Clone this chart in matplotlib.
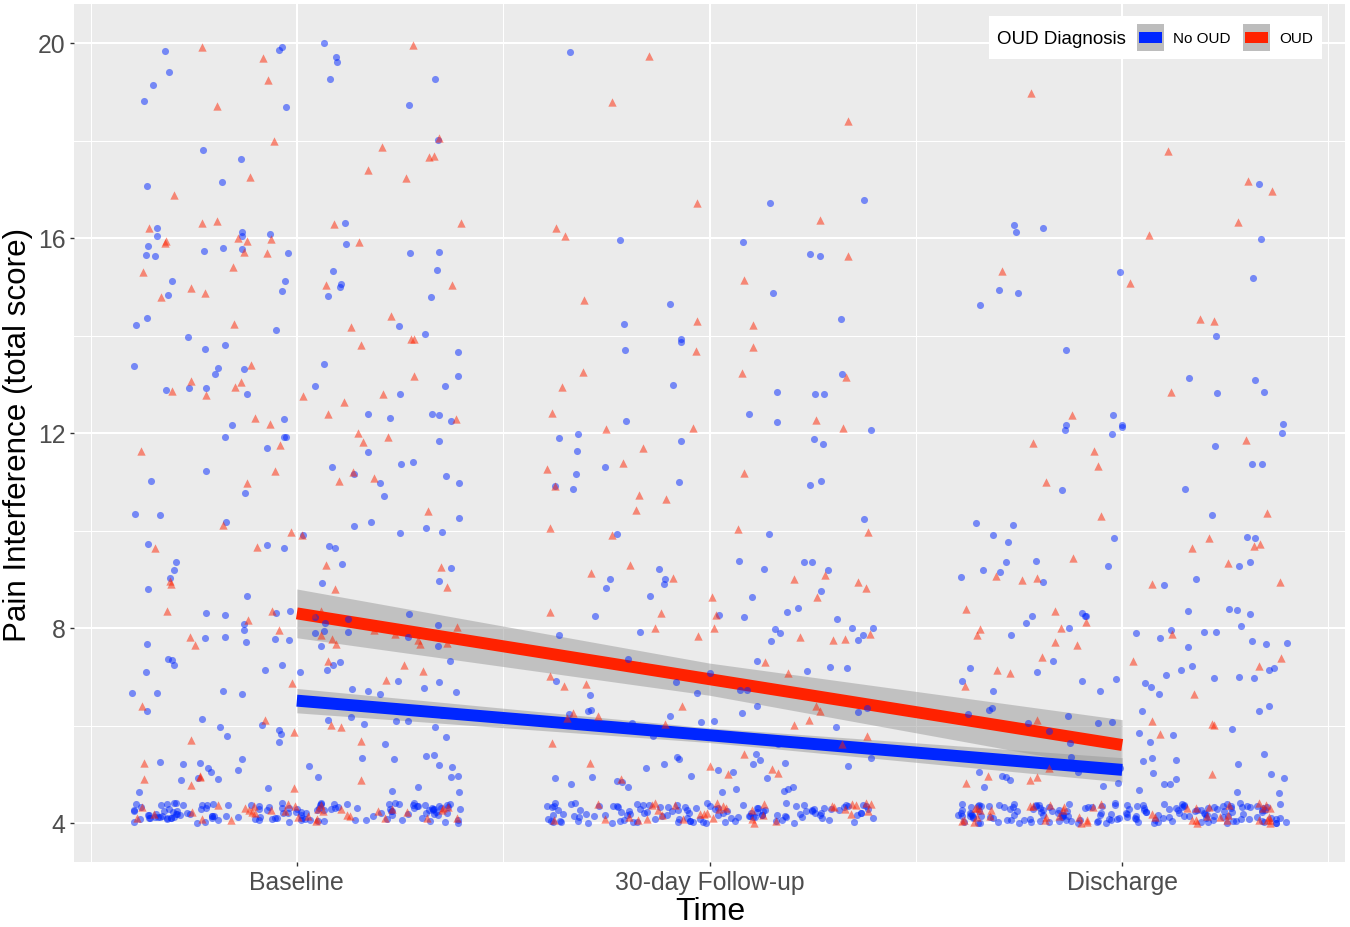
import matplotlib
matplotlib.use("Agg")
import matplotlib.pyplot as plt
from matplotlib.patches import Rectangle
import numpy as np

plt.rcParams['font.family'] = ['Liberation Sans', 'DejaVu Sans']

# ---- data ----
times = ["Baseline", "30-day Follow-up", "Discharge"]
groups = ["No OUD", "OUD"]

no_oud_baseline = [
    19.99, 19.84, 19.85, 19.72, 19.62, 19.92, 19.4, 19.26, 19.26, 19.14, 18.82, 18.73, 18.68,
    18.02, 17.81, 17.63, 17.15, 17.07, 16.31, 16.21, 16.12, 16.08, 16.05, 16.04, 15.87, 15.83,
    15.79, 15.77, 15.74, 15.72, 15.7, 15.69, 15.66, 15.64, 15.35, 15.33, 15.12, 15.11, 15.06,
    15.0, 14.92, 14.84, 14.81, 14.79, 14.36, 14.21, 14.19, 14.11, 14.03, 13.97, 13.8, 13.73,
    13.67, 13.41, 13.37, 13.34, 13.32, 13.22, 13.16, 12.96, 12.96, 12.93, 12.92, 12.88, 12.8,
    12.79, 12.38, 12.38, 12.37, 12.3, 12.28, 12.24, 12.16,
    11.91, 11.91, 11.91, 11.84, 11.69, 11.62, 11.41, 11.36, 11.31, 11.23, 11.15, 11.11, 11.01,
    10.98, 10.98, 10.76, 10.7, 10.33, 10.32, 10.26, 10.18, 10.18, 10.09, 10.05, 9.96, 9.94,
    9.9, 9.72, 9.7, 9.68, 9.65, 9.64, 9.35, 9.32, 9.23, 9.19, 9.02, 8.96, 8.92, 8.81, 8.66,
    8.35, 8.3, 8.3, 8.28, 8.27, 8.22, 8.19, 8.11, 8.08, 8.06, 7.96, 7.93, 7.91, 7.89, 7.81,
    7.81, 7.79, 7.77, 7.76, 7.72, 7.68, 7.63, 7.63, 7.37, 7.34, 7.33, 7.31, 7.25, 7.25, 7.24,
    7.14, 7.13, 7.1, 7.1, 6.92, 6.9, 6.77, 6.75, 6.71, 6.7, 6.68, 6.67, 6.66, 6.64, 6.64,
    6.33, 6.3, 6.29, 6.22, 6.17, 6.13, 6.12, 6.1, 6.1, 6.03, 6.01, 5.97, 5.96, 5.9, 5.83,
    5.78, 5.76, 5.67, 5.62, 5.4, 5.37, 5.34, 5.31, 5.31, 5.26, 5.24, 5.22, 5.18, 5.17, 5.15,
    5.13, 5.09, 5.05, 4.96, 4.94, 4.94, 4.92, 4.9, 4.89, 4.74, 4.72, 4.66, 4.63, 4.63]
no_oud_followup = [
    19.82, 16.78, 16.71, 15.95, 15.91, 15.67, 15.64, 14.88, 14.64, 14.34, 14.24, 13.92, 13.87,
    13.71, 13.21, 12.98, 12.85, 12.81, 12.8, 12.38, 12.25, 12.22,
    12.06, 11.97, 11.9, 11.88, 11.84, 11.77, 11.63, 11.31, 11.16, 11.02, 11.0, 10.93, 10.92,
    10.85, 10.23, 9.92, 9.92, 9.38, 9.35, 9.35, 9.22, 9.21, 9.2, 9.01, 9.0, 8.91, 8.83, 8.75,
    8.65, 8.63, 8.41, 8.32, 8.27, 8.24, 8.22, 8.19, 8.01, 8.01, 7.98, 7.91, 7.89, 7.86, 7.85,
    7.76, 7.74, 7.37, 7.33, 7.21, 7.17, 7.11, 7.07, 6.92, 6.89, 6.73, 6.72, 6.66, 6.62, 6.39,
    6.36, 6.31, 6.3, 6.28, 6.26, 6.23, 6.2, 6.1, 6.08, 6.05, 5.96, 5.79, 5.72, 5.62, 5.41,
    5.35, 5.33, 5.31, 5.3, 5.24, 5.21, 5.2, 5.16, 5.13, 5.09, 5.05, 4.96, 4.94, 4.92, 4.92,
    4.87, 4.85, 4.8, 4.74, 4.73, 4.7, 4.7, 4.65, 4.64]
no_oud_discharge = [
    17.11, 16.26, 16.21, 16.13, 15.98, 15.31, 15.18, 14.94, 14.87, 14.63, 13.99, 13.7, 13.13,
    13.08, 12.84, 12.83, 12.36, 12.19, 12.17, 12.16, 12.12,
    12.06, 12.01, 11.98, 11.74, 11.36, 11.36, 10.85, 10.84, 10.32, 10.16, 10.11, 9.91, 9.86,
    9.85, 9.84, 9.77, 9.38, 9.35, 9.35, 9.27, 9.27, 9.18, 9.14, 9.05, 9.01, 8.94, 8.89, 8.39,
    8.37, 8.34, 8.3, 8.28, 8.25, 8.25, 8.24, 8.1, 8.05, 8.01, 7.96, 7.91, 7.91, 7.89, 7.86,
    7.79, 7.74, 7.69, 7.67, 7.61, 7.33, 7.23, 7.17, 7.17, 7.14, 7.14, 7.09, 7.04, 7.0, 6.97,
    6.97, 6.95, 6.92, 6.91, 6.87, 6.78, 6.71, 6.7, 6.64, 6.41, 6.35, 6.32, 6.3, 6.29, 6.23,
    6.19, 6.08, 6.06, 6.05, 5.93, 5.89, 5.84, 5.8, 5.66, 5.64, 5.41, 5.35, 5.33, 5.3, 5.27,
    5.23, 5.21, 5.2, 5.16, 5.13, 5.05, 5.04, 5.02, 5.0, 4.96, 4.94, 4.92, 4.91, 4.88, 4.82,
    4.8, 4.79, 4.75, 4.74, 4.68, 4.64, 4.62]

oud_baseline = [
    19.96, 19.92, 19.7, 19.24, 18.71, 18.05, 17.99, 17.86, 17.68, 17.66, 17.4, 17.25, 17.23,
    16.89, 16.34, 16.31, 16.3, 16.28, 16.2, 16.0, 15.98, 15.94, 15.93, 15.91, 15.89, 15.71,
    15.69, 15.41, 15.31, 15.04, 15.03, 14.98, 14.87, 14.8, 14.41, 14.24, 14.17, 13.93, 13.92,
    13.8, 13.39, 13.17, 13.07, 13.05, 12.94, 12.87, 12.79, 12.77, 12.76, 12.63, 12.4, 12.31,
    12.28, 12.19,
    12.0, 11.91, 11.81, 11.75, 11.64, 11.22, 11.19, 11.07, 11.01, 10.98, 10.39, 10.11, 9.96,
    9.91, 9.67, 9.64, 9.29, 9.25, 8.96, 8.9, 8.84, 8.79, 8.34, 8.34, 8.34, 8.28, 8.17, 8.02,
    7.95, 7.95, 7.9, 7.88, 7.85, 7.82, 7.78, 7.76, 7.7, 7.68, 7.67, 7.66, 7.33, 7.24, 7.11,
    6.94, 6.88, 6.41, 6.12, 6.02, 5.96, 5.87, 5.71, 5.69, 5.24, 4.96, 4.94, 4.9, 4.88, 4.78,
    4.71]
oud_followup = [
    19.73, 18.8, 18.41, 16.72, 16.36, 16.2, 16.05, 15.64, 15.14, 14.72, 14.29, 14.22, 13.76,
    13.69, 13.25, 13.24, 13.15, 12.94, 12.42, 12.26, 12.1, 12.1,
    12.08, 11.69, 11.38, 11.26, 11.17, 10.91, 10.73, 10.65, 10.42, 10.05, 10.03, 9.96, 9.9,
    9.29, 9.12, 9.08, 9.02, 9.01, 8.95, 8.82, 8.64, 8.63, 8.32, 8.3, 8.27, 8.0, 8.0, 7.87,
    7.84, 7.82, 7.77, 7.75, 7.31, 7.25, 7.07, 7.01, 6.85, 6.81, 6.41, 6.4, 6.29, 6.25, 6.19,
    6.15, 6.12, 6.03, 6.02, 5.78, 5.64, 5.63, 5.41, 5.23, 5.16, 5.11, 5.03, 5.0, 4.91]
oud_discharge = [
    18.97, 17.78, 17.16, 16.96, 16.32, 16.06, 15.33, 15.07, 14.34, 14.29, 12.84, 12.36,
    11.86, 11.8, 11.64, 11.33, 11.0, 10.35, 10.3, 9.84, 9.72, 9.68, 9.65, 9.43, 9.34, 9.06,
    9.02, 8.98, 8.95, 8.91, 8.39, 8.35, 8.13, 8.0, 7.98, 7.87, 7.85, 7.72, 7.66, 7.4, 7.38,
    7.33, 7.22, 7.13, 7.07, 6.81, 6.64, 6.12, 6.1, 6.03, 6.02, 5.82, 5.13, 5.0, 4.96, 4.94,
    4.89, 4.83]

# how many people sit at the floor score of 4, per time point
floor_score = 4
floor_no_oud = [130, 120, 160]
floor_oud = [35, 35, 45]

# lm fit and 95% CI half-width at each time point
fit_no_oud = [6.51, 5.80, 5.09]
ci_no_oud = [0.25, 0.15, 0.25]
fit_oud = [8.30, 6.95, 5.60]
ci_oud = [0.50, 0.33, 0.52]

blue = '#0026FF'
red = '#FF2200'


def weyl(n, a, b, start):
    # quadratic Weyl sequence: a fixed, evenly spread jitter in [0, 1)
    k = np.arange(start, start + n, dtype=float)
    return (a * k + b * k * k) % 1.0


fig = plt.figure(figsize=(13.5, 9.28), dpi=100)
ax = fig.add_axes([74 / 1350, 1 - 863 / 928, 1271 / 1350, 858 / 928])
ax.set_facecolor('#EBEBEB')
for s in ax.spines.values():
    s.set_visible(False)

xpos = np.arange(1, len(times) + 1)

# smooth lines with ribbons (blue first, red over it)
for fit, ci, col in [(fit_no_oud, ci_no_oud, blue), (fit_oud, ci_oud, red)]:
    fit = np.array(fit)
    ci = np.array(ci)
    ax.fill_between(xpos, fit - ci, fit + ci, color='#999999', alpha=0.5, lw=0, zorder=2)
    ax.plot(xpos, fit, color=col, lw=8.6, solid_capstyle='butt', zorder=3)

# jittered points
no_oud = [no_oud_baseline, no_oud_followup, no_oud_discharge]
oud = [oud_baseline, oud_followup, oud_discharge]
for i, t in enumerate(xpos):
    for vals, nfloor, col, mk, sz, st in [
            (no_oud[i], floor_no_oud[i], blue, 'o', 26, 3 + 400 * i),
            (oud[i], floor_oud[i], red, '^', 36, 1700 + 300 * i)]:
        y = np.array(vals)
        x = t + (weyl(len(y), 0.6180339887, 0.4142135624, st) - 0.5) * 0.8
        ax.scatter(x, y, s=sz, marker=mk, color=col, alpha=0.5, lw=0, zorder=4)
        xf = t + (weyl(nfloor, 0.7548776662, 0.2360679775, st) - 0.5) * 0.8
        yf = floor_score + weyl(nfloor, 0.5698402910, 0.7320508076, st) * 0.42
        ax.scatter(xf, yf, s=sz, marker=mk, color=col, alpha=0.5, lw=0, zorder=4)

ax.set_xlim(0.46, 3.54)
ax.set_ylim(3.2, 20.8)
ax.set_xticks(xpos, times)
ax.set_xticks([0.5, 1.5, 2.5, 3.5], minor=True)
ax.set_yticks([4, 8, 12, 16, 20])
ax.set_yticks([6, 10, 14, 18], minor=True)
ax.set_axisbelow(True)
ax.grid(which='major', color='white', lw=1.5)
ax.grid(which='minor', color='white', lw=0.75)
ax.tick_params(which='major', length=3, width=1, color='#333333',
               labelcolor='#4D4D4D', labelsize=17.8, pad=3)
ax.tick_params(which='minor', length=0)

fig.text(18 / 1350, 1 - 435 / 928, 'Pain Interference (total score)', rotation=90,
         ha='center', va='center', fontsize=22.6, color='black')
fig.text(710 / 1350, 1 - 912 / 928, 'Time', ha='center', va='center',
         fontsize=23, color='black')


# legend, drawn ggplot-style (title on the left, keys in a row)
def box(x0, y0, x1, y1, fc):
    fig.add_artist(Rectangle((x0 / 1350, 1 - y1 / 928), (x1 - x0) / 1350, (y1 - y0) / 928,
                             transform=fig.transFigure, facecolor=fc, edgecolor='none'))


box(989, 17, 1322, 60, 'white')
fig.text(997 / 1350, 1 - 39 / 928, 'OUD Diagnosis', ha='left', va='center', fontsize=13.5)
for x0, col, lab in [(1137, blue, groups[0]), (1243, red, groups[1])]:
    box(x0, 25, x0 + 27, 52, '#BDBDBD')
    box(x0 + 2, 33, x0 + 25, 44, col)
    fig.text((x0 + 36) / 1350, 1 - 39 / 928, lab, ha='left', va='center', fontsize=11)

fig.savefig('out.png', dpi=100)
